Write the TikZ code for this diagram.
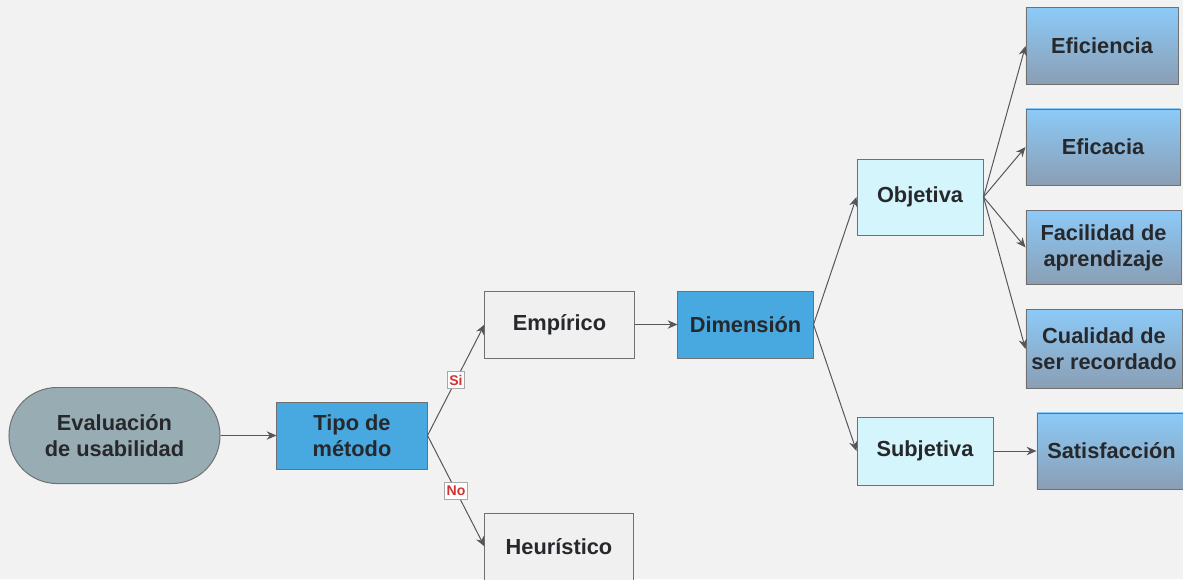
\documentclass[tikz,border=0pt]{standalone}
\usepackage{fontspec}
\setmainfont{Liberation Sans}
\usetikzlibrary{arrows.meta}
\definecolor{bgcol}{RGB}{242,242,242}
\definecolor{edgecol}{RGB}{112,112,112}
\definecolor{txtcol}{RGB}{38,40,44}
\definecolor{linecol}{RGB}{85,85,90}
\definecolor{evalcol}{RGB}{152,172,180}
\definecolor{bluecol}{RGB}{72,168,224}
\definecolor{greycol}{RGB}{240,240,240}
\definecolor{cyancol}{RGB}{212,245,251}
\definecolor{topcol}{RGB}{140,202,248}
\definecolor{botcol}{RGB}{138,158,180}
\definecolor{redcol}{RGB}{210,50,50}
\begin{document}
\begin{tikzpicture}[x=0.025cm, y=-0.025cm,
    box/.style={draw=edgecol, line width=0.7pt, text=txtcol, align=center,
        inner sep=0pt, font=\fontsize{15.5}{18.5}\selectfont\bfseries},
    start/.style={box, fill=evalcol, rounded corners=1.2cm},
    bluebox/.style={box, fill=bluecol},
    greybox/.style={box, fill=greycol},
    cyanbox/.style={box, fill=cyancol},
    leaf/.style={box, top color=topcol, bottom color=botcol},
    arr/.style={draw=linecol, line width=0.7pt, -{Stealth[length=7pt, width=6pt]}},
    lbl/.style={fill=white, draw=edgecol!60, line width=0.4pt, text=redcol,
        inner xsep=1.5pt, inner ysep=2.5pt, font=\fontsize{10}{11}\selectfont\bfseries}
  ]
  \fill[bgcol] (0,0) rectangle (1183,579);
  \clip (0,0) rectangle (1183,579);
  \useasboundingbox (0,0) rectangle (1183,579);

  % nodes
  \node[start, minimum width=5.275cm, minimum height=2.4cm] (eval) at (114.5,435.5) {Evaluación\\de usabilidad};
  \node[bluebox, minimum width=3.75cm, minimum height=1.675cm] (tipo) at (352,435.5) {Tipo de\\método};
  \node[greybox, minimum width=3.725cm, minimum height=1.675cm] (emp) at (559.5,324.5) {Empírico};
  \node[greybox, minimum width=3.7cm, minimum height=1.675cm] (heur) at (559,546.5) {Heurístico};
  \node[bluebox, minimum width=3.375cm, minimum height=1.675cm] (dim) at (745.5,324.5) {Dimensión};
  \node[cyanbox, minimum width=3.15cm, minimum height=1.9cm] (obj) at (920,197) {Objetiva};
  \node[cyanbox, minimum width=3.4cm, minimum height=1.7cm] (subj) at (925,451) {Subjetiva};
  \node[leaf, minimum width=3.8cm, minimum height=1.9cm] (efic) at (1102,46) {Eficiencia};
  \node[leaf, minimum width=3.85cm, minimum height=1.9cm] (efca) at (1103,147) {Eficacia};
  \node[leaf, minimum width=3.875cm, minimum height=1.85cm] (faci) at (1103.5,247.5) {Facilidad de\\aprendizaje};
  \node[leaf, minimum width=3.9cm, minimum height=1.975cm] (cual) at (1104,349) {Cualidad de\\ser recordado};
  \node[leaf, minimum width=3.725cm, minimum height=1.9cm] (sat) at (1111.5,451) {Satisfacción};

  % connectors
  \draw[arr] (eval.east) -- (tipo.west);
  \draw[arr] (tipo.east) -- node[lbl] {Si} (emp.west);
  \draw[arr] (tipo.east) -- node[lbl] {No} (heur.west);
  \draw[arr] (emp) -- (dim);
  \draw[arr] (dim.east) -- (obj.west);
  \draw[arr] (dim.east) -- (subj.west);
  \draw[arr] (obj.east) -- (efic.west);
  \draw[arr] (obj.east) -- (efca.west);
  \draw[arr] (obj.east) -- (faci.west);
  \draw[arr] (obj.east) -- (cual.west);
  \draw[arr] (subj) -- (sat);
\end{tikzpicture}
\end{document}
